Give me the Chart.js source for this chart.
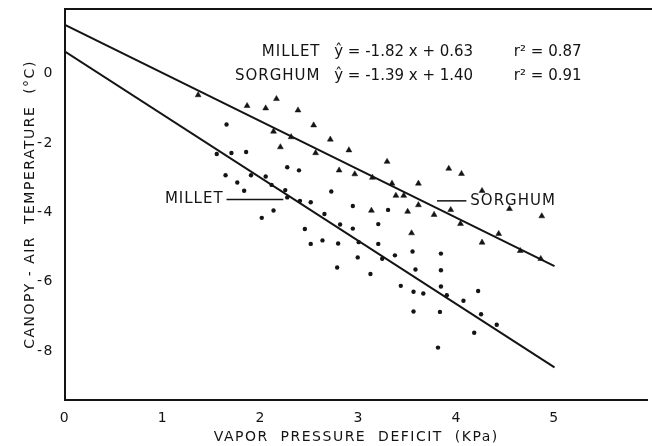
<!DOCTYPE html>
<html>
<head>
<meta charset="utf-8">
<script src="https://cdn.jsdelivr.net/npm/chart.js@4"></script>
<style>
  html, body { margin: 0; padding: 0; background: #fff; }
  #wrap { width: 652px; height: 446px; }
</style>
</head>
<body>
<div id="wrap"><canvas id="vpdChart"></canvas></div>
<script>
const xTicks = [0, 1, 2, 3, 4, 5];
const yTicks = [0, -2, -4, -6, -8];

// millet (dots): vapor pressure deficit (kPa) vs canopy - air temperature (C)
const milletVpd = [1.65, 1.55, 1.70, 1.85, 2.27, 2.39, 1.64, 1.90, 2.05, 1.76,
  1.83, 2.11, 2.25, 2.72, 2.27, 2.40, 2.51, 2.94, 2.65, 2.13,
  2.01, 3.30, 2.81, 2.94, 2.45, 2.51, 2.63, 2.79, 3.00, 2.99,
  2.78, 3.12, 3.20, 3.20, 3.24, 3.37, 3.55, 3.84, 3.58, 3.84,
  3.43, 3.56, 3.66, 3.84, 3.90, 4.07, 4.22, 3.56, 3.83, 4.25,
  4.41, 4.18, 3.81];
const milletDiff = [-1.47, -2.32, -2.29, -2.26, -2.70, -2.79, -2.93, -2.93, -2.97, -3.14,
  -3.38, -3.21, -3.36, -3.40, -3.57, -3.67, -3.71, -3.82, -4.05, -3.95,
  -4.16, -3.93, -4.35, -4.47, -4.48, -4.91, -4.81, -4.90, -4.86, -5.30,
  -5.59, -5.78, -4.34, -4.91, -5.34, -5.24, -5.13, -5.19, -5.65, -5.67,
  -6.12, -6.29, -6.34, -6.14, -6.39, -6.55, -6.27, -6.86, -6.87, -6.94,
  -7.24, -7.47, -7.90];

// sorghum (triangles)
const sorghumVpd = [1.36, 1.86, 2.05, 2.16, 2.38, 2.13, 2.31, 2.54, 2.71, 2.90,
  2.20, 2.56, 2.80, 2.96, 3.14, 3.29, 3.92, 4.05, 3.34, 3.61,
  3.38, 3.46, 4.26, 3.13, 3.50, 3.61, 3.77, 3.94, 4.54, 4.87,
  4.04, 3.54, 4.43, 4.26, 4.65, 4.86];
const sorghumDiff = [-0.62, -0.93, -1.00, -0.73, -1.06, -1.67, -1.83, -1.49, -1.90, -2.21,
  -2.12, -2.29, -2.79, -2.90, -3.00, -2.54, -2.74, -2.89, -3.17, -3.17,
  -3.52, -3.52, -3.38, -3.95, -3.98, -3.79, -4.07, -3.93, -3.90, -4.11,
  -4.33, -4.60, -4.62, -4.87, -5.11, -5.34];

// regression fits
const fitNames = ["MILLET", "SORGHUM"];
const fitSlope = [-1.82, -1.39];
const fitIntercept = [0.63, 1.40];
const fitR2 = [0.87, 0.91];
const fitRange = [0, 5];

const ink = "#141414";
const family = "'DejaVu Sans', sans-serif";

function toPoints(xs, ys) {
  return xs.map((v, i) => ({ x: v, y: ys[i] }));
}

function fitLine(i) {
  return fitRange.map(v => ({ x: v, y: fitSlope[i] * v + fitIntercept[i] }));
}

function equation(i) {
  const m = (fitSlope[i] < 0 ? "-" : "") + Math.abs(fitSlope[i]).toFixed(2);
  const b = (fitIntercept[i] < 0 ? "- " : "+ ") + Math.abs(fitIntercept[i]).toFixed(2);
  return "ŷ = " + m + " x " + b;
}

// frame top edge, equation block and the two line labels
const annotations = {
  id: "annotations",
  beforeDraw(chart) {
    chart.ctx.letterSpacing = "1.5px";
  },
  afterDraw(chart) {
    const { ctx, chartArea, scales: { x, y } } = chart;
    ctx.save();
    ctx.strokeStyle = ink;
    ctx.lineWidth = 2;
    ctx.beginPath();
    ctx.moveTo(chartArea.left - 1, chartArea.top);
    ctx.lineTo(chart.width, chartArea.top);
    ctx.stroke();

    ctx.fillStyle = ink;
    ctx.font = "15px " + family;
    ctx.textBaseline = "middle";

    const rows = [0.62, -0.07];
    fitNames.forEach((name, i) => {
      const py = y.getPixelForValue(rows[i]);
      ctx.letterSpacing = "1px";
      ctx.textAlign = "right";
      ctx.fillText(name, x.getPixelForValue(2.61), py);
      ctx.textAlign = "left";
      ctx.letterSpacing = "0px";
      ctx.fillText(equation(i), x.getPixelForValue(2.75), py);
      ctx.fillText("r² = " + fitR2[i].toFixed(2), x.getPixelForValue(4.585), py);
    });

    ctx.letterSpacing = "1px";
    // MILLET ---- pointing at the lower line
    let py = y.getPixelForValue(-3.63);
    ctx.textAlign = "right";
    ctx.fillText("MILLET", x.getPixelForValue(1.62), py);
    ctx.lineWidth = 1.5;
    ctx.beginPath();
    ctx.moveTo(x.getPixelForValue(1.65), py);
    ctx.lineTo(x.getPixelForValue(2.23), py);
    ctx.stroke();

    // ---- SORGHUM pointing at the upper line
    py = y.getPixelForValue(-3.67);
    ctx.textAlign = "left";
    ctx.fillText("SORGHUM", x.getPixelForValue(4.14), py);
    ctx.beginPath();
    ctx.moveTo(x.getPixelForValue(3.80), py);
    ctx.lineTo(x.getPixelForValue(4.10), py);
    ctx.stroke();
    ctx.restore();
  }
};

new Chart(document.getElementById("vpdChart"), {
  type: "scatter",
  data: {
    datasets: [
      {
        label: "MILLET",
        data: toPoints(milletVpd, milletDiff),
        pointStyle: "circle",
        pointRadius: 2.2,
        backgroundColor: ink,
        borderWidth: 0
      },
      {
        label: "SORGHUM",
        data: toPoints(sorghumVpd, sorghumDiff),
        pointStyle: "triangle",
        pointRadius: 3.4,
        backgroundColor: ink,
        borderColor: ink,
        borderWidth: 0.5
      },
      {
        type: "line",
        label: "MILLET fit",
        data: fitLine(0),
        borderColor: ink,
        borderWidth: 2,
        pointRadius: 0,
        fill: false
      },
      {
        type: "line",
        label: "SORGHUM fit",
        data: fitLine(1),
        borderColor: ink,
        borderWidth: 2,
        pointRadius: 0,
        fill: false
      }
    ]
  },
  options: {
    responsive: true,
    maintainAspectRatio: false,
    animation: false,
    layout: { padding: { top: 9, left: 22, right: 0, bottom: 0 } },
    plugins: {
      legend: { display: false },
      tooltip: { enabled: false }
    },
    scales: {
      x: {
        type: "linear",
        min: 0,
        max: 5.95,
        afterBuildTicks: s => { s.ticks = xTicks.map(v => ({ value: v })); },
        afterFit: s => { s.height = 46; s.paddingLeft = 0; s.paddingRight = 0; },
        grid: { display: false, drawTicks: false },
        border: { display: true, color: ink, width: 2 },
        ticks: {
          color: ink,
          padding: 10,
          maxRotation: 0,
          font: { family: family, size: 14 }
        },
        title: {
          display: true,
          text: "VAPOR  PRESSURE  DEFICIT  (KPa)",
          color: ink,
          padding: { top: 4, bottom: 0 },
          font: { family: family, size: 14 }
        }
      },
      y: {
        type: "linear",
        min: -9.41,
        max: 1.86,
        afterBuildTicks: s => { s.ticks = yTicks.map(v => ({ value: v })); },
        afterFit: s => { s.width = 43; s.paddingTop = 0; s.paddingBottom = 0; },
        grid: { display: false, drawTicks: false },
        border: { display: true, color: ink, width: 2 },
        ticks: {
          color: ink,
          padding: 11,
          font: { family: family, size: 14 }
        },
        title: {
          display: true,
          text: "CANOPY - AIR  TEMPERATURE  (°C)",
          color: ink,
          padding: { top: 0, bottom: 4 },
          font: { family: family, size: 14 }
        }
      }
    }
  },
  plugins: [annotations]
});
</script>
</body>
</html>
